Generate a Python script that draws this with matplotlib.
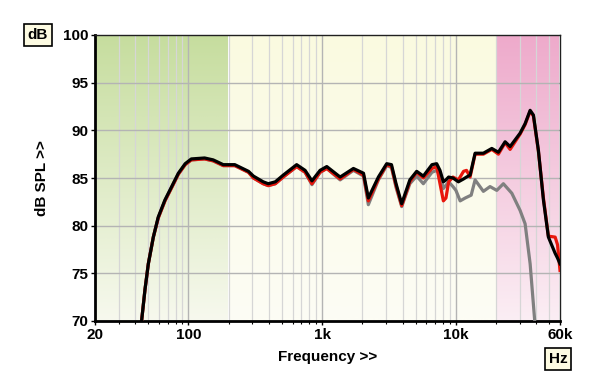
import numpy as np
import matplotlib
matplotlib.use("Agg")
import matplotlib.pyplot as plt
from matplotlib.colors import LinearSegmentedColormap

plt.rcParams['font.family'] = ['Liberation Sans', 'DejaVu Sans']

# frequency response readings (Hz, dB SPL)
freq = [44, 44.6, 47.3, 50.1, 54.6, 59.4, 66.7, 74.9, 84, 94.5,
        105, 132, 153, 182, 222, 281, 306, 362, 395, 446,
        511, 644, 745, 838, 964, 1082, 1362, 1711, 2036, 2213,
        2631, 3036, 3296, 3566, 3930, 4523, 5087, 5703, 6620, 7178,
        7600, 8054, 8420, 8820, 9500, 10430, 11400, 12000, 12760, 13910,
        16040, 18540, 20770, 23320, 25420, 30180, 32900, 35880, 37960, 41370,
        45100, 49140, 55190, 57500, 60000]
black_db = [69.4, 70.0, 73.3, 76.0, 78.8, 80.9, 82.7, 84.1, 85.5, 86.5,
            87.0, 87.1, 86.9, 86.4, 86.4, 85.7, 85.2, 84.6, 84.4, 84.6,
            85.3, 86.4, 85.8, 84.7, 85.8, 86.2, 85.1, 86.0, 85.5, 82.9,
            85.1, 86.5, 86.4, 84.4, 82.3, 84.8, 85.7, 85.2, 86.4, 86.5,
            85.8, 84.6, 84.8, 85.1, 85.0, 84.6, 84.9, 85.1, 85.3, 87.6,
            87.6, 88.1, 87.7, 88.8, 88.3, 89.7, 90.7, 92.1, 91.6, 87.9,
            82.7, 78.8, 77.1, 76.6, 76.0]
red_db = [69.4, 70.0, 73.3, 76.0, 78.8, 80.8, 82.6, 84.0, 85.4, 86.4,
          86.9, 87.0, 86.8, 86.3, 86.3, 85.6, 85.0, 84.4, 84.2, 84.4,
          85.1, 86.2, 85.6, 84.4, 85.6, 86.0, 84.9, 85.9, 85.3, 82.6,
          84.9, 86.4, 86.2, 84.2, 82.1, 84.6, 85.6, 85.0, 86.0, 86.2,
          84.4, 82.6, 82.9, 84.6, 85.1, 84.8, 85.7, 85.8, 85.1, 87.5,
          87.5, 88.0, 87.5, 88.7, 88.0, 89.6, 90.6, 92.0, 91.5, 87.8,
          82.9, 78.9, 78.8, 78.0, 75.3]
grey_freq = freq[:41] + [8054, 8820, 9500, 10000, 10750, 11730, 13000, 13910, 16040, 17990,
                         20200, 22630, 26180, 30180, 32900, 35880, 39090]
grey_db = [69.4, 70.0, 73.3, 76.0, 78.8, 80.8, 82.6, 84.0, 85.4, 86.4,
           86.9, 87.0, 86.8, 86.3, 86.3, 85.6, 85.0, 84.4, 84.2, 84.4,
           85.1, 86.2, 85.6, 84.3, 85.6, 86.0, 84.8, 85.8, 85.2, 82.2,
           84.8, 86.3, 86.1, 84.0, 82.0, 84.4, 85.2, 84.4, 85.6, 85.8,
           85.3, 83.9, 84.6, 84.1, 83.7, 82.6, 82.9, 83.2, 84.8, 83.6,
           84.1, 83.7, 84.4, 83.4, 81.6, 80.2, 76.0, 69.5]

yticks = [70, 75, 80, 85, 90, 95, 100]
xticks = [20, 100, 1000, 10000, 60000]
xlabels = ['20', '100', '1k', '10k', '60k']

fig = plt.figure(figsize=(6, 3.89), dpi=100)
ax = fig.add_axes([95 / 600, 1 - 321 / 389, 465 / 600, 286 / 389])
ax.set_xscale('log')
ax.set_xlim(20, 60000)
ax.set_ylim(70, 100)

# shaded frequency bands with vertical gradients
grad = np.linspace(0, 1, 256).reshape(-1, 1)
bands = [(20, 200, '#c6dd9e', '#f7f9ee'),
         (200, 20000, '#fafae0', '#fdfdf5'),
         (20000, 60000, '#eeaacb', '#fbeef4')]
for lo, hi, top, bottom in bands:
    cmap = LinearSegmentedColormap.from_list('b', [bottom, top])
    ax.imshow(grad, cmap=cmap, aspect='auto', extent=[lo, hi, 70, 100],
              origin='lower', zorder=0, interpolation='bicubic')

# grid
for dec in [10, 100, 1000, 10000]:
    for m in range(1, 10):
        f = dec * m
        if f <= 20 or f >= 60000:
            continue
        major = m == 1
        ax.axvline(f, color='#b4b4b4' if major else '#d6d6d6', lw=1.0 if major else 0.9, zorder=1)
for y in yticks[1:-1]:
    ax.axhline(y, color='#b4b4b4', lw=1.0, zorder=1)

ax.plot(grey_freq, grey_db, color='#808080', lw=2.3, zorder=3, solid_joinstyle='round')
ax.plot(freq, red_db, color='#e8160c', lw=2.3, zorder=4, solid_joinstyle='round')
ax.plot(freq, black_db, color='#000000', lw=2.3, zorder=5, solid_joinstyle='round')

ax.set_yticks(yticks)
ax.set_yticklabels([str(v) for v in yticks], fontsize=11, fontweight='bold')
ax.set_xticks(xticks)
ax.set_xticklabels(xlabels, fontsize=11, fontweight='bold')
minor = [d * m for d in [10, 100, 1000, 10000] for m in range(2, 10) if 20 < d * m < 60000]
ax.set_xticks(minor, minor=True)
ax.xaxis.set_minor_formatter(plt.NullFormatter())
ax.tick_params(axis='both', which='major', direction='out', length=3, width=1, pad=2)
ax.tick_params(axis='x', which='minor', direction='out', length=2.5, width=0.8)

for side in ['left', 'bottom']:
    ax.spines[side].set_linewidth(2)
for side in ['top', 'right']:
    ax.spines[side].set_linewidth(1)
    ax.spines[side].set_color('#202020')

ax.set_ylabel('dB SPL >>', fontsize=11, fontweight='bold', labelpad=10)
ax.set_xlabel('Frequency >>', fontsize=11, fontweight='bold', labelpad=6)

box = dict(boxstyle='square,pad=0.25', facecolor='#fdfbe2', edgecolor='black', lw=1.2)
fig.text(38 / 600, 1 - 35 / 389, 'dB', fontsize=11, fontweight='bold', ha='center', va='center', bbox=box)
fig.text(558 / 600, 1 - 359 / 389, 'Hz', fontsize=11, fontweight='bold', ha='center', va='center', bbox=box)

fig.savefig('out.png', dpi=100)
